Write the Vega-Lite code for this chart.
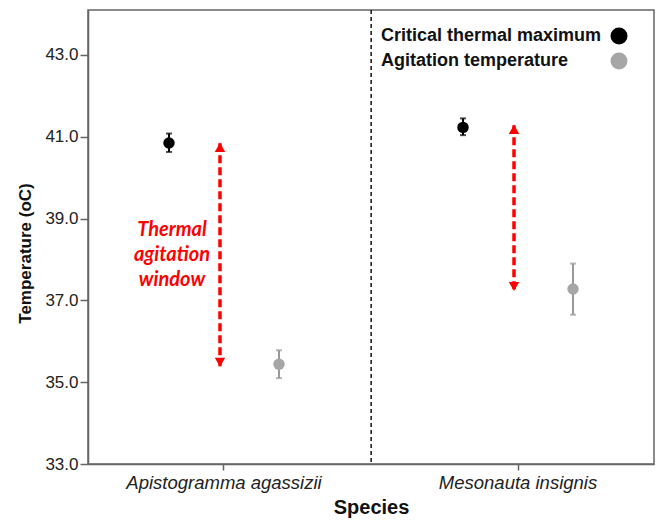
{
  "$schema": "https://vega.github.io/schema/vega-lite/v6.json",
  "width": 566,
  "height": 454,
  "padding": {"left": 16, "top": 9, "right": 4, "bottom": 4},
  "background": "white",
  "config": {
    "font": "Liberation Sans",
    "view": {"stroke": "#666666", "strokeWidth": 1.5},
    "axis": {
      "grid": false,
      "domainColor": "#666666",
      "domainWidth": 1.5,
      "tickColor": "#666666",
      "tickWidth": 1.5,
      "labelColor": "#222222",
      "titleColor": "#111111",
      "titleFontWeight": "bold"
    }
  },
  "datasets": {
    "stats": [
      {"species": "Apistogramma agassizii", "series": "Critical thermal maximum", "mean": 40.85, "lo": 40.63, "hi": 41.08},
      {"species": "Apistogramma agassizii", "series": "Agitation temperature", "mean": 35.44, "lo": 35.1, "hi": 35.78},
      {"species": "Mesonauta insignis", "series": "Critical thermal maximum", "mean": 41.23, "lo": 41.04, "hi": 41.45},
      {"species": "Mesonauta insignis", "series": "Agitation temperature", "mean": 37.28, "lo": 36.65, "hi": 37.9}
    ],
    "window": [
      {"species": "Apistogramma agassizii", "top": 40.84, "bottom": 35.39},
      {"species": "Mesonauta insignis", "top": 41.28, "bottom": 37.24}
    ],
    "note": [
      {"species": "Apistogramma agassizii", "text": ["Thermal", "agitation", "window"], "temp": 38.12}
    ],
    "divider": [
      {"species": "Mesonauta insignis"}
    ]
  },
  "encoding": {
    "x": {
      "field": "species",
      "type": "nominal",
      "title": "Species",
      "scale": {"domain": ["Apistogramma agassizii", "Mesonauta insignis"], "paddingInner": 0.075, "paddingOuter": 0},
      "axis": {
        "labelAngle": 0,
        "labelFontSize": 18.5,
        "labelFontStyle": "italic",
        "labelLimit": 400,
        "labelPadding": 3,
        "tickSize": 6,
        "titleFontSize": 20,
        "titlePadding": 6
      }
    }
  },
  "layer": [
    {
      "data": {"name": "divider"},
      "mark": {"type": "rule", "color": "#111111", "strokeWidth": 1.5, "strokeDash": [4, 3]},
      "encoding": {
        "x": {"field": "species", "type": "nominal", "bandPosition": -0.04}
      }
    },
    {
      "data": {"name": "stats"},
      "mark": {"type": "rule", "strokeWidth": 2},
      "encoding": {
        "xOffset": {"field": "series", "type": "nominal", "scale": {"type": "point", "domain": ["Critical thermal maximum", "Agitation temperature"], "padding": 0.736}},
        "y": {
          "field": "lo",
          "type": "quantitative",
          "title": "Temperature (oC)",
          "scale": {"domain": [33, 44.1], "nice": false, "zero": false},
          "axis": {
            "values": [33, 35, 37, 39, 41, 43],
            "format": ".1f",
            "labelFontSize": 17,
            "labelPadding": 2,
            "tickSize": 8,
            "titleFontSize": 17,
            "titlePadding": 10,
            "titleY": 243
          }
        },
        "y2": {"field": "hi"},
        "color": {"condition": {"test": "datum.series === 'Critical thermal maximum'", "value": "#000000"}, "value": "#999999"}
      }
    },
    {
      "data": {"name": "stats"},
      "mark": {"type": "tick", "orient": "horizontal", "size": 6, "thickness": 2},
      "encoding": {
        "xOffset": {"field": "series", "type": "nominal", "scale": {"type": "point", "domain": ["Critical thermal maximum", "Agitation temperature"], "padding": 0.736}},
        "y": {"field": "lo", "type": "quantitative"},
        "color": {"condition": {"test": "datum.series === 'Critical thermal maximum'", "value": "#000000"}, "value": "#999999"}
      }
    },
    {
      "data": {"name": "stats"},
      "mark": {"type": "tick", "orient": "horizontal", "size": 6, "thickness": 2},
      "encoding": {
        "xOffset": {"field": "series", "type": "nominal", "scale": {"type": "point", "domain": ["Critical thermal maximum", "Agitation temperature"], "padding": 0.736}},
        "y": {"field": "hi", "type": "quantitative"},
        "color": {"condition": {"test": "datum.series === 'Critical thermal maximum'", "value": "#000000"}, "value": "#999999"}
      }
    },
    {
      "data": {"name": "stats"},
      "mark": {"type": "point", "filled": true, "opacity": 1, "size": 130, "shape": "circle"},
      "encoding": {
        "xOffset": {"field": "series", "type": "nominal", "scale": {"type": "point", "domain": ["Critical thermal maximum", "Agitation temperature"], "padding": 0.736}},
        "y": {"field": "mean", "type": "quantitative"},
        "color": {
          "field": "series",
          "type": "nominal",
          "scale": {"domain": ["Critical thermal maximum", "Agitation temperature"], "range": ["#000000", "#a6a6a6"]},
          "legend": {
            "title": null,
            "orient": "none",
            "legendX": 522,
            "legendY": 17,
            "padding": 0,
            "symbolType": "circle",
            "symbolSize": 289,
            "symbolStrokeWidth": 0,
            "labelAlign": "left",
            "labelOffset": -247,
            "labelFontSize": 18,
            "labelFontWeight": "bold",
            "labelColor": "#111111",
            "labelLimit": 400,
            "rowPadding": 7
          }
        }
      }
    },
    {
      "data": {"name": "window"},
      "mark": {"type": "rule", "color": "#ff0000", "strokeWidth": 3.5, "strokeDash": [8, 4], "xOffset": -4},
      "encoding": {
        "y": {"field": "top", "type": "quantitative"},
        "y2": {"field": "bottom"}
      }
    },
    {
      "data": {"name": "window"},
      "mark": {"type": "point", "shape": "triangle-up", "filled": true, "opacity": 1, "color": "#ff0000", "size": 110, "xOffset": -4, "yOffset": 4},
      "encoding": {
        "y": {"field": "top", "type": "quantitative"}
      }
    },
    {
      "data": {"name": "window"},
      "mark": {"type": "point", "shape": "triangle-down", "filled": true, "opacity": 1, "color": "#ff0000", "size": 110, "xOffset": -4, "yOffset": -4},
      "encoding": {
        "y": {"field": "bottom", "type": "quantitative"}
      }
    },
    {
      "data": {"name": "note"},
      "mark": {"type": "text", "color": "#ff0000", "font": "Lato", "fontSize": 20, "fontWeight": "bold", "fontStyle": "italic", "lineHeight": 25, "align": "center", "baseline": "middle", "dx": -52, "dy": -25},
      "encoding": {
        "y": {"field": "temp", "type": "quantitative"},
        "text": {"field": "text"}
      }
    }
  ]
}
